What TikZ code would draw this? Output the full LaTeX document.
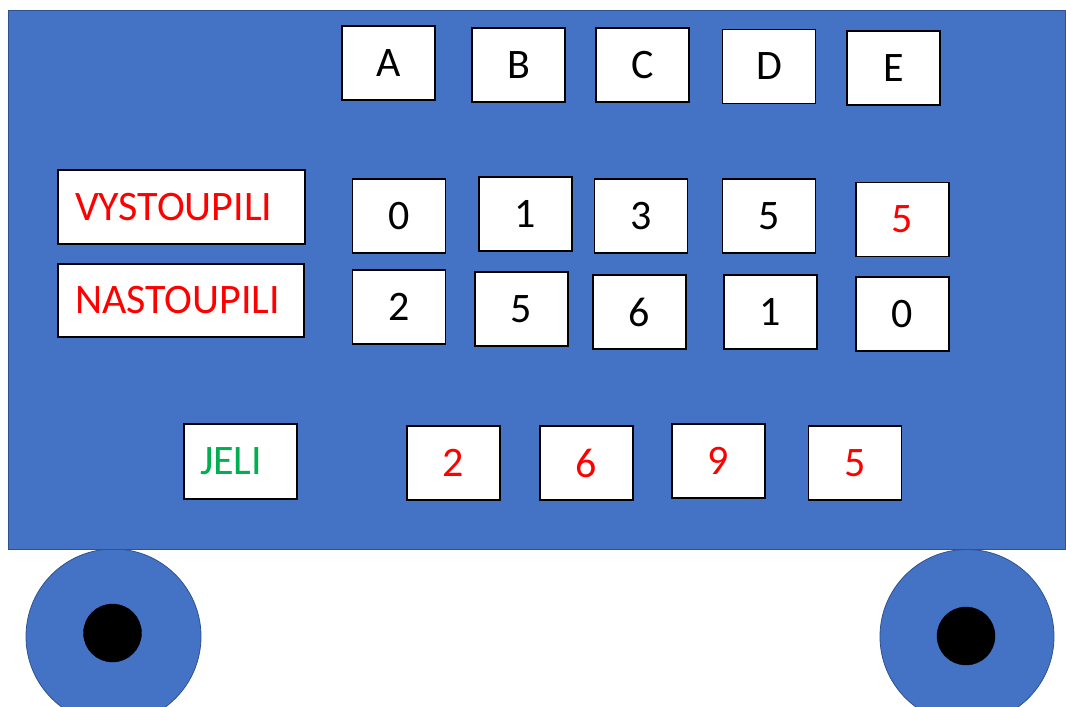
\documentclass[tikz,border=0pt]{standalone}
\usepackage{fontspec}
\setmainfont{Carlito}
\definecolor{busblue}{HTML}{4472C4}
\definecolor{busedge}{HTML}{2F528F}
\definecolor{txtred}{HTML}{FF0000}
\definecolor{txtgreen}{HTML}{00B050}
\begin{document}
\begin{tikzpicture}[x=1pt,y=-1pt,
  box/.style={draw=black, line width=1.2pt, fill=white, minimum width=93pt,
    minimum height=74pt, inner sep=0pt, font=\fontsize{42}{42}\selectfont, anchor=center},
  red text/.style={text=txtred},
  label box/.style={box, align=left, text=txtred},
  wheel/.style={fill=busblue, draw=busedge, line width=0.8pt},
  hub/.style={fill=black, draw=black}
]
\useasboundingbox (0,0) rectangle (1066,707);
% wheels
\path[wheel] (113.5,636.5) circle[radius=87.5];
\path[wheel] (967,636.5) circle[radius=87];
\path[hub] (112.5,633) circle[radius=29];
\path[hub] (966,636) circle[radius=29];
% body
\draw[fill=busblue, draw=busedge, line width=1pt] (8.5,10.5) rectangle (1065.5,549);
% header
\node[box] (A) at (388.5,63) {A};
\node[box] (B) at (518.5,65) {B};
\node[box] (C) at (642.5,65) {C};
\node[box] (D) at (769,66.5) {D};
\node[box] (E) at (893.5,68) {E};
% labels
\node[label box, minimum width=247pt, text width=213pt, inner xsep=17pt] (vyst) at (181.5,207) {VYSTOUPILI};
\node[label box, minimum width=246pt, minimum height=73pt, text width=212pt, inner xsep=17pt] (nast) at (181,300.5) {NASTOUPILI};
\node[label box, minimum width=113pt, minimum height=75pt, text width=81pt, inner xsep=16pt, text=txtgreen] (jeli) at (240.5,461.5) {JELI};
% row 1
\node[box] (v0) at (399,216) {0};
\node[box] (v1) at (525.5,214) {1};
\node[box] (v3) at (641,216) {3};
\node[box] (v5) at (769,216) {5};
\node[box, red text] (vsum) at (902.5,219.5) {5};
% row 2
\node[box] (n2) at (399,307) {2};
\node[box] (n5) at (521.5,309) {5};
\node[box] (n6) at (639.5,312) {6};
\node[box] (n1) at (770.5,312) {1};
\node[box] (n0) at (902.5,314) {0};
% bottom row
\node[box, red text] (j2) at (453.5,463) {2};
\node[box, red text] (j6) at (586.5,463) {6};
\node[box, red text] (j9) at (718.5,461) {9};
\node[box, red text] (j5) at (855,463) {5};
\end{tikzpicture}
\end{document}
